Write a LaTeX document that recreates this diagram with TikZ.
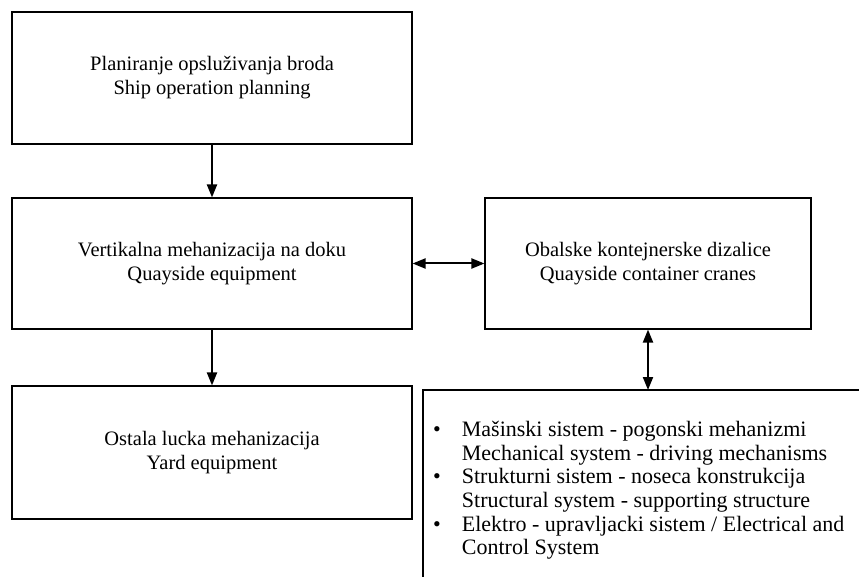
\documentclass[tikz,border=0pt]{standalone}
\usepackage{fontspec}
\setmainfont{Liberation Serif}
\usetikzlibrary{arrows.meta,positioning,calc}

\begin{document}
\begin{tikzpicture}[x=1pt,y=-1pt,
    blok/.style={draw, line width=1.1pt, align=center, inner sep=0pt,
      font=\fontsize{20.5}{24}\selectfont},
    veza/.style={line width=2pt, -{Triangle[length=13pt,width=10pt]}},
    dvostr/.style={line width=2pt, {Triangle[length=13pt,width=10pt]}-{Triangle[length=13pt,width=10pt]}}]
  \useasboundingbox (0,0) rectangle (859,577);
  % Boxes on the left
  \node[blok, minimum width=400pt, minimum height=132pt] (plan) at (212,78)
    {Planiranje opslu\v{z}ivanja broda\\Ship operation planning};
  \node[blok, minimum width=400pt, minimum height=131pt] (vert) at (212,263.5)
    {Vertikalna mehanizacija na doku\\Quayside equipment};
  \node[blok, minimum width=400pt, minimum height=133pt] (yard) at (212,452.5)
    {Ostala lucka mehanizacija\\Yard equipment};
  % Box on the right
  \node[blok, minimum width=326pt, minimum height=131pt] (kran) at (648,263.5)
    {Obalske kontejnerske dizalice\\Quayside container cranes};
  % Open frame for the crane systems (cut at the page edge)
  \coordinate (sist) at (423,390);
  \draw[line width=1.1pt] (859,390) -- (sist) -- (423,577);
  \node[anchor=north west, inner sep=0pt, font=\fontsize{22}{23.6}\selectfont]
    (lista) at (433,420) {%
    \begin{tabular}{@{}l@{\hspace{21pt}}l@{}}
      \textbullet & Ma\v{s}inski sistem - pogonski mehanizmi\\
                  & Mechanical system - driving mechanisms\\
      \textbullet & Strukturni sistem - noseca konstrukcija\\
                  & Structural system - supporting structure\\
      \textbullet & Elektro - upravljacki sistem / Electrical and\\
                  & Control System
    \end{tabular}};
  % Connectors
  \draw[veza] (plan) -- (vert);
  \draw[veza] (vert) -- (yard);
  \draw[dvostr] (vert) -- (kran);
  \draw[dvostr] (kran.south) -- (kran.south |- sist);
\end{tikzpicture}
\end{document}
